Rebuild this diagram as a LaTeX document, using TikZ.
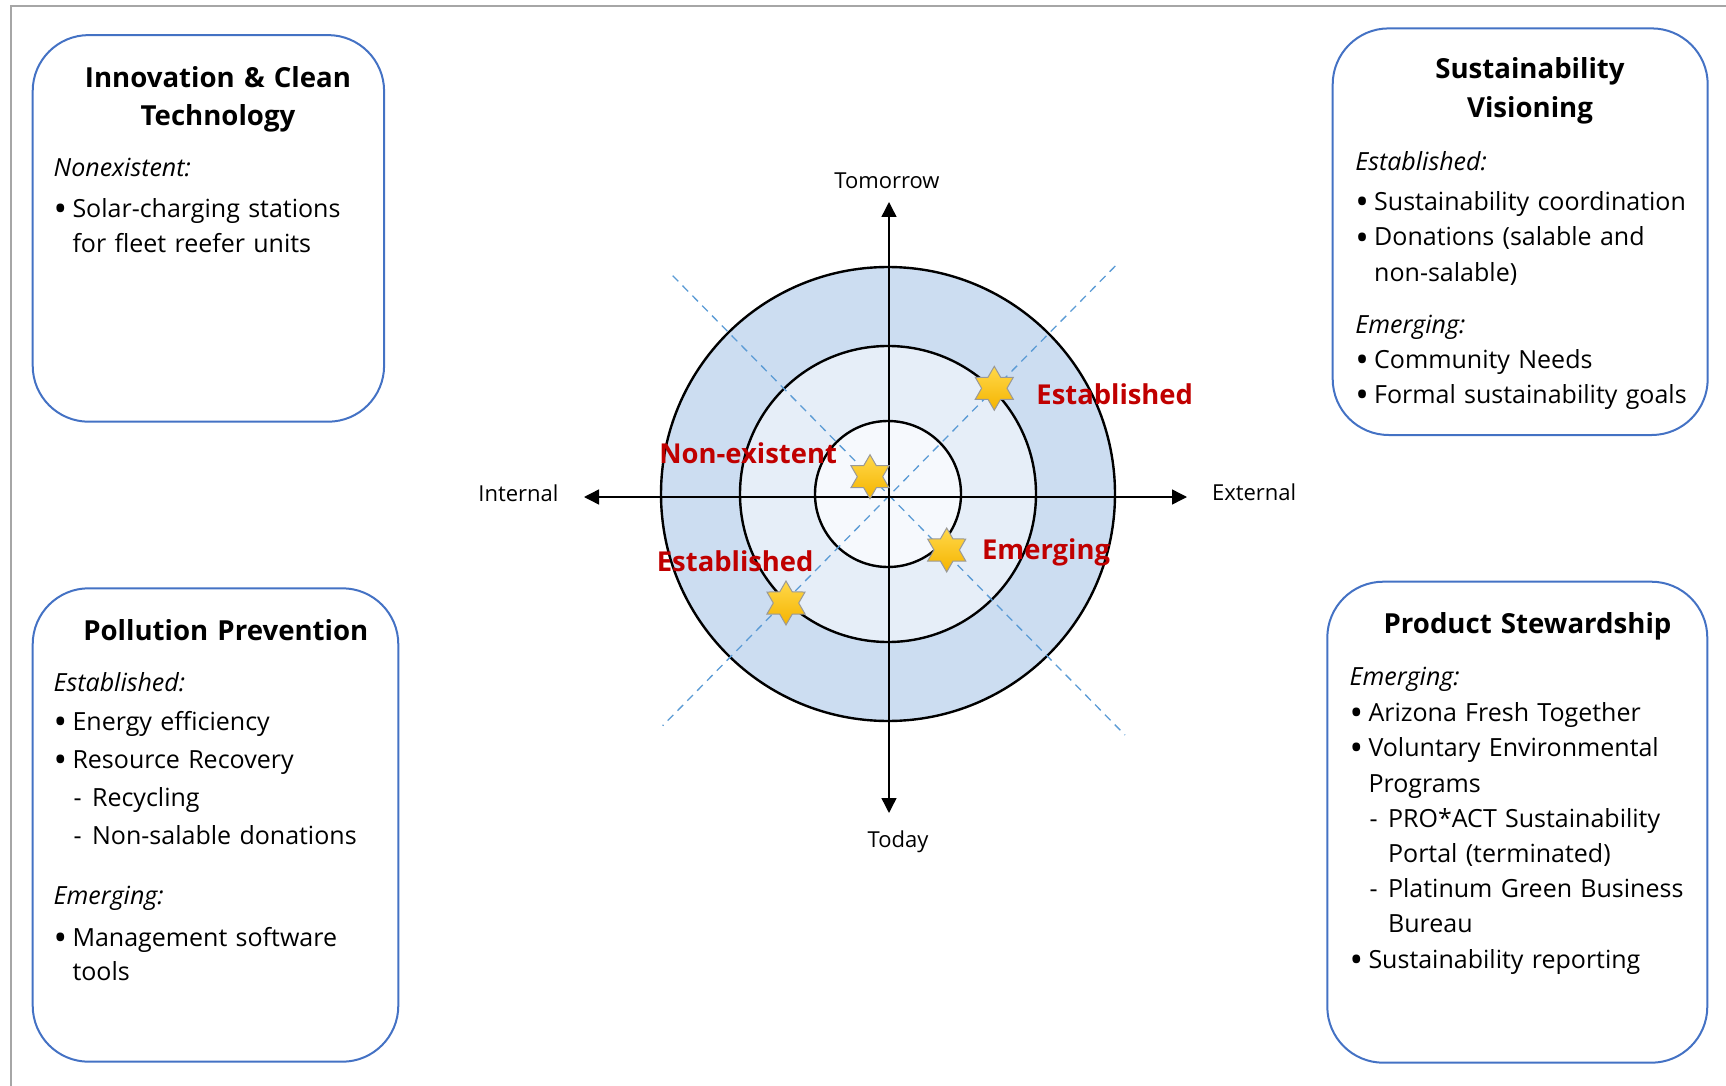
\documentclass[tikz,border=0pt]{standalone}
\usepackage{fontspec}
\setmainfont{Open Sans}
\usetikzlibrary{shapes.geometric}
\usetikzlibrary{arrows.meta}
\definecolor{bordbleu}{HTML}{4472C4}
\definecolor{pointille}{HTML}{5B9BD5}
\definecolor{rougefonce}{HTML}{C00000}
\definecolor{anneauA}{HTML}{CCDDF1}
\definecolor{anneauB}{HTML}{E6EEF8}
\definecolor{anneauC}{HTML}{F6F9FD}
\definecolor{cadre}{HTML}{A6A6A6}
\definecolor{orclair}{HTML}{FFD84A}
\definecolor{orfonce}{HTML}{F5B400}
\newcommand\gros{\raisebox{-2pt}{\fontsize{18}{18}\selectfont\textbullet}}
\newcommand\puce[1]{\par\noindent\hangindent=9.4pt\hangafter=1\makebox[9.4pt][l]{\gros}#1\par}
\newcommand\tiret[1]{\par\noindent\hangindent=19.2pt\hangafter=1\hspace*{10pt}\makebox[9.2pt][l]{-}#1\par}
\tikzset{
	bloc/.style = {draw=bordbleu, line width=1pt, rounded corners=28pt,
		inner sep=0pt},% cadre bleu arrondi
	titre/.style = {font=\fontsize{13.8}{19.25}\selectfont\bfseries, align=center,
		text width=200pt, anchor=base, inner sep=0pt},% titre du cadre
	corps/.style = {font=\fontsize{12.5}{#1}\selectfont, align=left,
		text width=185pt, anchor=base west, inner sep=0pt},% texte du cadre
	anneau/.style = {circle, draw=black, line width=1.2pt, inner sep=0pt},
	diag/.style = {draw=pointille, line width=0.65pt, dash pattern=on 4pt off 3pt},
	etoile/.style = {star, star points=6, star point ratio=1.73, minimum size=22pt,
		inner sep=0pt, draw=black!40, line width=0.5pt, top color=orclair,
		bottom color=orfonce},% etoile jaune
	etiq/.style = {font=\fontsize{13.7}{17}\selectfont\bfseries, text=rougefonce,
		anchor=base west, inner sep=0pt},% etiquette rouge
	axe/.style = {font=\fontsize{11}{13}\selectfont, inner sep=0pt}
}
\begin{document}
\begin{tikzpicture}[x=0.5pt,y=-0.5pt,>={Triangle[width=7.5pt,length=7.5pt]}]
	\useasboundingbox (0,0) rectangle (1726,1086);
	\draw[cadre, line width=1pt] (11,1086) -- (11,6.5) -- (1726,6.5);

	% cibles
	\node[anneau, fill=anneauA, minimum size=227pt] (ext) at (888,494) {};
	\node[anneau, fill=anneauB, minimum size=148pt] (mil) at (888,494) {};
	\node[anneau, fill=anneauC, minimum size=73pt] (cen) at (888,494) {};

	\coordinate (no) at (672.7,275.7);
	\coordinate (se) at (1125,735);
	\coordinate (ne) at (1115.3,266);
	\coordinate (so) at (662.7,725.7);
	\draw[diag] (no) -- (se);
	\draw[diag] (ne) -- (so);

	% axes
	\coordinate (gauche) at (584,497);
	\coordinate (droite) at (1187,497);
	\coordinate (haut) at (889,202);
	\coordinate (bas) at (889,813);
	\draw[<->, line width=0.7pt] (gauche) -- (droite);
	\draw[<->, line width=0.7pt] (haut) -- (bas);
	\node[axe] (demain) at (887,180.5) {Tomorrow};
	\node[axe] (auj) at (898,841.7) {Today};
	\node[axe] (interne) at (518.5,493) {Internal};
	\node[axe, anchor=west] (externe) at (1211.7,492) {External};

	% etoiles
	\node[etoile] (etA) at (994.3,388.3) {};
	\node[etoile] (etB) at (870,476.7) {};
	\node[etoile] (etC) at (946.7,550) {};
	\node[etoile] (etD) at (786,603) {};
	\node[etiq] (lA) at (1036,404) {Established};
	\node[etiq] (lB) at (659,463.3) {Non-existent};
	\node[etiq] (lC) at (981.7,559.3) {Emerging};
	\node[etiq] (lD) at (656.5,571.5) {Established};

	% cadres
	\node[bloc, minimum width=175.7pt, minimum height=193.3pt] (innov) at (208.4,228.4) {};
	\node[titre] (innovT) at (218,87.3) {Innovation \& Clean\\Technology};
	\node[corps=17.5pt] (innovC) at (53.3,176.7) {\textit{Nonexistent:}\par\vspace{3pt}
		\puce{Solar-charging stations\newline for fleet reefer units}};

	\node[bloc, minimum width=187.5pt, minimum height=203.3pt] (vision) at (1520.2,231.7) {};
	\node[titre] (visionT) at (1530,79) {Sustainability\\Visioning};
	\node[corps=17.75pt] (visionC) at (1355,170) {\textit{Established:}\par\vspace{2.5pt}
		\puce{Sustainability coordination}
		\puce{Donations (salable and\newline non-salable)}
		\vspace{8pt}\textit{Emerging:}\par
		\puce{Community Needs}
		\puce{Formal sustainability goals}};

	\node[bloc, minimum width=182.8pt, minimum height=236.7pt] (pollut) at (215.5,825) {};
	\node[titre] (pollutT) at (225.8,640) {Pollution Prevention};
	\node[corps=17pt] (pollutC) at (53.3,691.7) {\setlength\parskip{2.15pt}\textit{Established:}\par
		\puce{Energy efficiency}
		\puce{Resource Recovery}
		\tiret{Recycling}
		\tiret{Non-salable donations}
		\vspace{10.85pt}\textit{Emerging:}\par\vspace{1.7pt}
		\puce{Management software\newline tools}};

	\node[bloc, minimum width=190pt, minimum height=240.5pt] (produit) at (1517.3,822.2) {};
	\node[titre] (produitT) at (1527.5,633.3) {Product Stewardship};
	\node[corps=17.6pt] (produitC) at (1349.3,685) {\textit{Emerging:}\par\vspace{0.75pt}
		\puce{Arizona Fresh Together}
		\puce{Voluntary Environmental\newline Programs}
		\tiret{PRO*ACT Sustainability\newline Portal (terminated)}
		\tiret{Platinum Green Business\newline Bureau}
		\puce{Sustainability reporting}};
\end{tikzpicture}
\end{document}
